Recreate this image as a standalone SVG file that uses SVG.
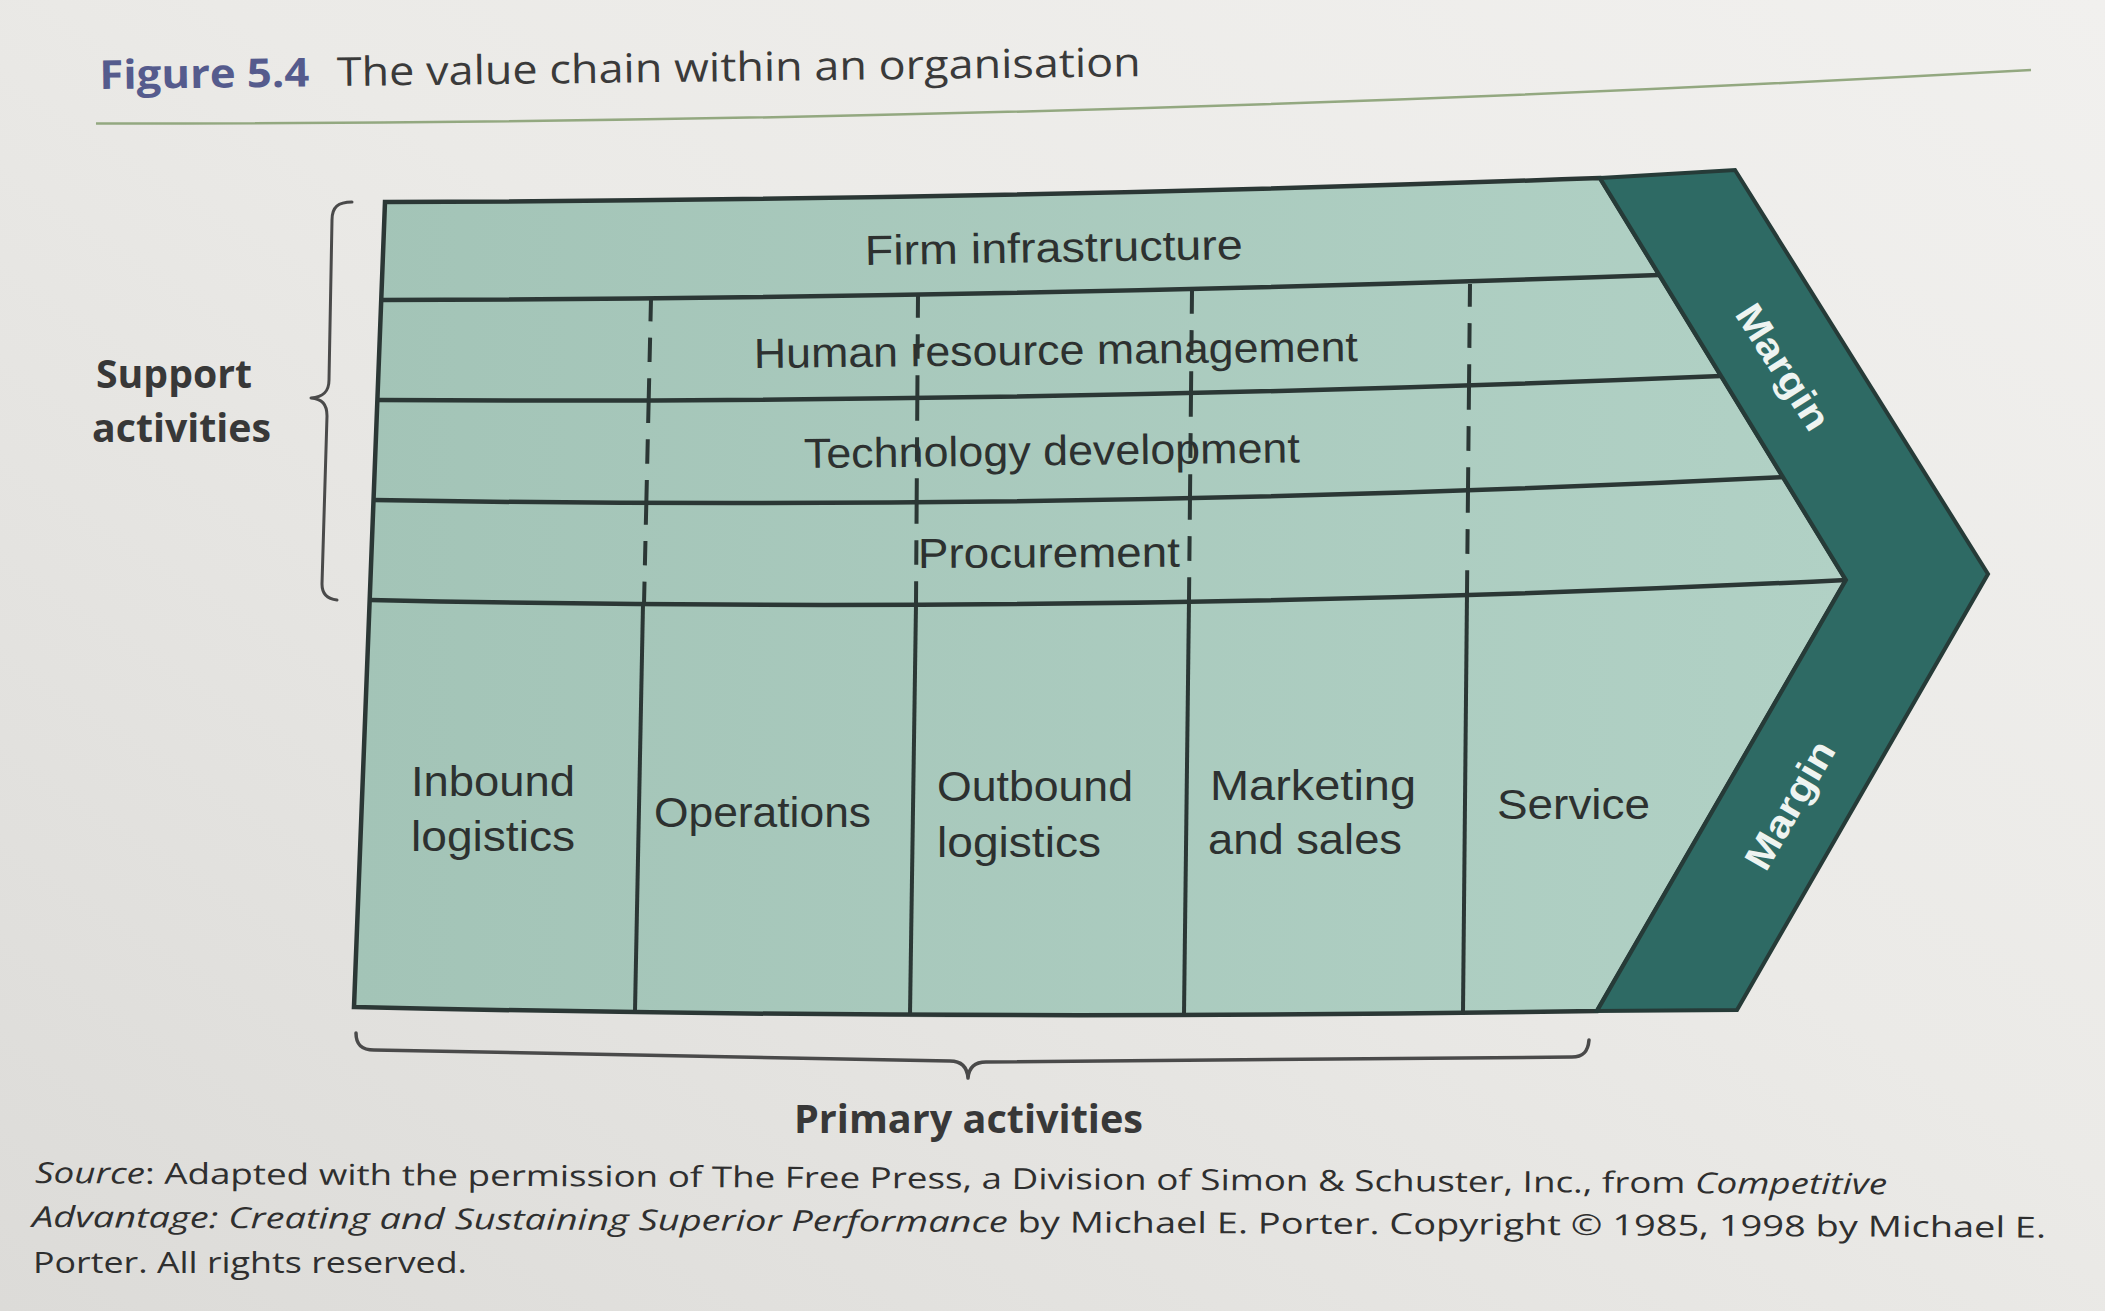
<svg xmlns="http://www.w3.org/2000/svg" width="2105" height="1311" viewBox="0 0 2105 1311">
<defs>
<linearGradient id="bg" x1="0" y1="1" x2="1" y2="0">
<stop offset="0" stop-color="#dcdbd8"/>
<stop offset="0.55" stop-color="#ebeae7"/>
<stop offset="1" stop-color="#f1f0ee"/>
</linearGradient>
<linearGradient id="teal" x1="0" y1="0" x2="1" y2="0">
<stop offset="0" stop-color="#a3c4b7"/>
<stop offset="1" stop-color="#b1d1c5"/>
</linearGradient>
<style>
.ln{fill:none;stroke:#2b3735;stroke-width:4.5;stroke-linecap:butt}
.col{fill:none;stroke:#2b3735;stroke-width:4}
.dash{fill:none;stroke:#2b3735;stroke-width:4;stroke-dasharray:44 16 24 16;stroke-dashoffset:22}
.cell{font-family:"Liberation Sans",Arial,sans-serif;font-size:42px;fill:#2d3130}
.lab{font-family:"Open Sans","Noto Sans",sans-serif;font-weight:700;font-size:40px;fill:#383838}
.src{font-family:"Open Sans","Noto Sans",sans-serif;font-size:29px;fill:#2f2f2f}
.mg{font-family:"Liberation Sans",Arial,sans-serif;font-weight:700;font-size:38px;fill:#eef4f1}
.brace{fill:none;stroke:#4a4a4a;stroke-linecap:round;stroke-linejoin:round}
</style>
</defs>
<rect width="2105" height="1311" fill="url(#bg)"/>

<g id="title">
<text x="99.5" y="89" transform="rotate(-0.7 99.5 89)" font-family="'Open Sans','Noto Sans',sans-serif" font-weight="700" font-size="40" fill="#555b8d" textLength="210" lengthAdjust="spacingAndGlyphs">Figure 5.4</text>
<text x="337" y="86" transform="rotate(-0.7 337 86)" font-family="'Open Sans','Noto Sans',sans-serif" font-size="40" fill="#3a3a3a" textLength="804" lengthAdjust="spacingAndGlyphs">The value chain within an organisation</text>
<path d="M96,123.5 Q1063,124 2031,70" fill="none" stroke="#93a880" stroke-width="2.5"/>
</g>

<g id="support-activities">
<text class="lab" x="96" y="388" textLength="156" lengthAdjust="spacingAndGlyphs">Support</text>
<text class="lab" x="92" y="442" textLength="179" lengthAdjust="spacingAndGlyphs">activities</text>
<path class="brace" stroke-width="3" d="M352,202 C338,202 332,207 332,220 L329,380 C329,392 323,397 311,398 C322,399 327,404 327,416 L322,584 C322,594 327,599 337,600"/>
</g>

<g id="value-chain">
<path d="M385,202 Q992,200 1600,178 L1846,580 L1597,1011 Q975,1021 354,1007 Z" fill="url(#teal)" stroke="#2b3735" stroke-width="4.5" stroke-linejoin="miter"/>
</g>

<g id="connectors">
<path class="ln" d="M381,300 Q1019,298 1659,275"/>
<path class="ln" d="M377,400 Q1046,404 1721,376"/>
<path class="ln" d="M373.5,500 Q1076,512 1783,477"/>
<path class="ln" d="M370,600 Q1108,616 1846,580"/>
<path class="col" d="M643,604 L635,1011"/>
<path class="col" d="M916,604 L910,1015"/>
<path class="col" d="M1189,600 L1184,1014"/>
<path class="col" d="M1467,593 L1463,1012"/>
<path class="dash" pathLength="300" d="M651,299 L644,604"/>
<path class="dash" pathLength="300" d="M918,295 L916,604"/>
<path class="dash" pathLength="300" d="M1192,291 L1189,600"/>
<path class="dash" pathLength="300" d="M1470,284 L1467,593"/>
</g>

<g id="margin">
<path d="M1600,178 L1735,170 L1988,574 L1737,1010 L1597,1011 L1846,580 Z" fill="#2e6a64" stroke="#263b38" stroke-width="4" stroke-linejoin="miter"/>
<text class="mg" transform="translate(1783,367) rotate(57.5)" x="-71" y="13" textLength="142" lengthAdjust="spacingAndGlyphs">Margin</text>
<text class="mg" transform="translate(1790,805) rotate(-60)" x="-71" y="13" textLength="142" lengthAdjust="spacingAndGlyphs">Margin</text>
</g>

<g id="firm-infrastructure">
<text class="cell" x="865" y="265" transform="rotate(-0.9 865 265)" textLength="378" lengthAdjust="spacingAndGlyphs">Firm infrastructure</text>
</g>
<g id="human-resource-management">
<text class="cell" x="754" y="368" transform="rotate(-0.66 754 368)" textLength="604" lengthAdjust="spacingAndGlyphs">Human resource management</text>
</g>
<g id="technology-development">
<text class="cell" x="804" y="468" transform="rotate(-0.66 804 468)" textLength="496" lengthAdjust="spacingAndGlyphs">Technology development</text>
</g>
<g id="procurement">
<text class="cell" x="918" y="568" transform="rotate(-0.3 918 568)" textLength="262" lengthAdjust="spacingAndGlyphs">Procurement</text>
</g>

<g id="inbound-logistics">
<text class="cell" x="411" y="796" textLength="164" lengthAdjust="spacingAndGlyphs">Inbound</text>
<text class="cell" x="411" y="851" textLength="164" lengthAdjust="spacingAndGlyphs">logistics</text>
</g>
<g id="operations">
<text class="cell" x="654" y="827" textLength="217" lengthAdjust="spacingAndGlyphs">Operations</text>
</g>
<g id="outbound-logistics">
<text class="cell" x="937" y="801" textLength="196" lengthAdjust="spacingAndGlyphs">Outbound</text>
<text class="cell" x="937" y="857" textLength="164" lengthAdjust="spacingAndGlyphs">logistics</text>
</g>
<g id="marketing-and-sales">
<text class="cell" x="1210" y="800" textLength="206" lengthAdjust="spacingAndGlyphs">Marketing</text>
<text class="cell" x="1208" y="854" textLength="194" lengthAdjust="spacingAndGlyphs">and sales</text>
</g>
<g id="service">
<text class="cell" x="1497" y="819" textLength="153" lengthAdjust="spacingAndGlyphs">Service</text>
</g>

<g id="primary-activities">
<path class="brace" stroke-width="3.5" d="M356,1033 C356,1045 362,1050 374,1050 L950,1061 C960,1061 967,1066 968,1078 C969,1066 976,1062 986,1062 L1572,1057 C1583,1057 1588,1052 1589,1040"/>
<text class="lab" x="794" y="1133" textLength="349" lengthAdjust="spacingAndGlyphs">Primary activities</text>
</g>

<g id="source">
<text class="src" x="35" y="1183" transform="rotate(0.35 35 1183)" textLength="1852" lengthAdjust="spacingAndGlyphs"><tspan font-style="italic">Source</tspan>: Adapted with the permission of The Free Press, a Division of Simon &amp; Schuster, Inc., from <tspan font-style="italic">Competitive</tspan></text>
<text class="src" x="32" y="1227" transform="rotate(0.3 32 1227)" textLength="2014" lengthAdjust="spacingAndGlyphs"><tspan font-style="italic">Advantage: Creating and Sustaining Superior Performance</tspan> by Michael E. Porter. Copyright © 1985, 1998 by Michael E.</text>
<text class="src" x="33" y="1273" textLength="434" lengthAdjust="spacingAndGlyphs">Porter. All rights reserved.</text>
</g>
</svg>
